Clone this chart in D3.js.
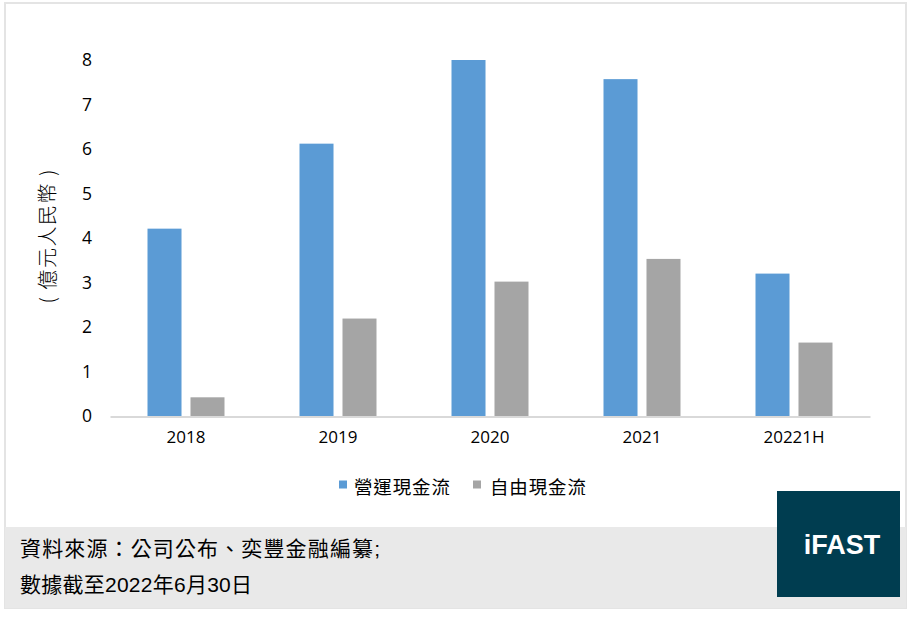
<!DOCTYPE html>
<html>
<head>
<meta charset="utf-8">
<script src="https://cdn.jsdelivr.net/npm/d3@7"></script>
<style>
  html, body { margin: 0; padding: 0; background: #fff; }
  svg { display: block; }
</style>
</head>
<body>
<svg id="chart" width="918" height="620"></svg>
<script>
const categories = ["2018", "2019", "2020", "2021", "20221H"];
const seriesNames = ["營運現金流", "自由現金流"];
const operatingCF = [4.21, 6.12, 8.0, 7.57, 3.2];
const freeCF = [0.42, 2.19, 3.02, 3.53, 1.65];
const yTickValues = [0, 1, 2, 3, 4, 5, 6, 7, 8];
const yAxisTitle = "( 億元人民幣 )";
const sourceLines = ["資料來源：公司公布、奕豐金融編纂;", "數據截至2022年6月30日"];
const logoText = "iFAST";

const colors = ["#5B9BD5", "#A5A5A5"];
const seriesValues = [operatingCF, freeCF];
const table = categories.map((c, i) => ({
  cat: c,
  vals: seriesNames.map((s, j) => ({ key: s, value: seriesValues[j][i], idx: j }))
}));

const svg = d3.select("#chart");
const numFont = "'Open Sans', 'Liberation Sans', sans-serif";
const cjkFont = "'Liberation Sans', 'Noto Sans CJK TC', sans-serif";

// panel
svg.append("rect").attr("x", 5).attr("y", 3).attr("width", 901).attr("height", 605)
  .attr("fill", "#fff").attr("stroke", "#e4e4e4").attr("stroke-width", 2);
// footer band
svg.append("rect").attr("x", 5).attr("y", 527).attr("width", 901).attr("height", 81)
  .attr("fill", "#e9e9e9");

const x0 = d3.scaleBand().domain(categories).range([110, 870]).paddingInner(0).paddingOuter(0);
const groupW = 77;
const x1 = d3.scaleBand().domain(seriesNames)
  .range([(x0.bandwidth() - groupW) / 2, (x0.bandwidth() + groupW) / 2])
  .paddingInner(0.209).paddingOuter(0);
const y = d3.scaleLinear().domain([0, 8]).range([416, 60]);

// bars
const groups = svg.append("g").selectAll("g").data(table).join("g")
  .attr("transform", d => `translate(${x0(d.cat)},0)`);
groups.selectAll("rect").data(d => d.vals).join("rect")
  .attr("x", d => x1(d.key))
  .attr("width", x1.bandwidth())
  .attr("y", d => y(d.value))
  .attr("height", d => y(0) - y(d.value))
  .attr("fill", d => colors[d.idx]);

// y axis
const yAxis = svg.append("g").attr("transform", "translate(96,0)")
  .call(d3.axisLeft(y).tickValues(yTickValues).tickSize(0).tickPadding(4).tickFormat(d3.format("d")));
yAxis.select(".domain").remove();
yAxis.selectAll("text").attr("font-family", numFont).attr("font-size", 17.5).attr("fill", "#000");

// x axis
const xAxis = svg.append("g").attr("transform", "translate(0,416.5)")
  .call(d3.axisBottom(x0).tickSize(0).tickSizeOuter(0).tickPadding(14));
xAxis.select(".domain").attr("stroke", "#d9d9d9").attr("stroke-width", 2);
xAxis.selectAll("text").attr("font-family", numFont).attr("font-size", 17).attr("fill", "#000");

// y title
svg.append("text")
  .attr("transform", "translate(46,236.5) rotate(-90)")
  .attr("text-anchor", "middle").attr("dominant-baseline", "central")
  .attr("font-family", "'Noto Sans CJK TC', sans-serif").attr("font-size", 20)
  .attr("font-weight", 300)
  .attr("textLength", 134).attr("lengthAdjust", "spacing")
  .attr("fill", "#000")
  .text(yAxisTitle);

// legend
const legendItems = [
  { name: seriesNames[0], sx: 339, tx: 354 },
  { name: seriesNames[1], sx: 473, tx: 490 }
];
legendItems.forEach((it, i) => {
  svg.append("rect").attr("x", it.sx).attr("y", 480.5).attr("width", 8).attr("height", 8)
    .attr("fill", colors[i]);
  svg.append("text").attr("x", it.tx).attr("y", 486)
    .attr("dominant-baseline", "central")
    .attr("font-family", "'Noto Sans CJK TC', sans-serif").attr("font-size", 18.5)
    .attr("textLength", 96).attr("lengthAdjust", "spacing")
    .attr("fill", "#000").text(it.name);
});

// footer text
const lens = [360, 232];
sourceLines.forEach((t, i) => {
  svg.append("text").attr("x", 20).attr("y", 548 + i * 36)
    .attr("dominant-baseline", "central")
    .attr("font-family", cjkFont).attr("font-size", 21)
    .attr("textLength", lens[i]).attr("lengthAdjust", "spacing")
    .attr("fill", "#000").text(t);
});

// logo
svg.append("rect").attr("x", 777).attr("y", 491).attr("width", 123).attr("height", 106)
  .attr("fill", "#003D50");
svg.append("text").attr("x", 842).attr("y", 544.5)
  .attr("text-anchor", "middle").attr("dominant-baseline", "central")
  .attr("font-family", "'Liberation Sans', Arial, sans-serif").attr("font-weight", "bold")
  .attr("font-size", 27).attr("fill", "#fff").text(logoText);
</script>
</body>
</html>
